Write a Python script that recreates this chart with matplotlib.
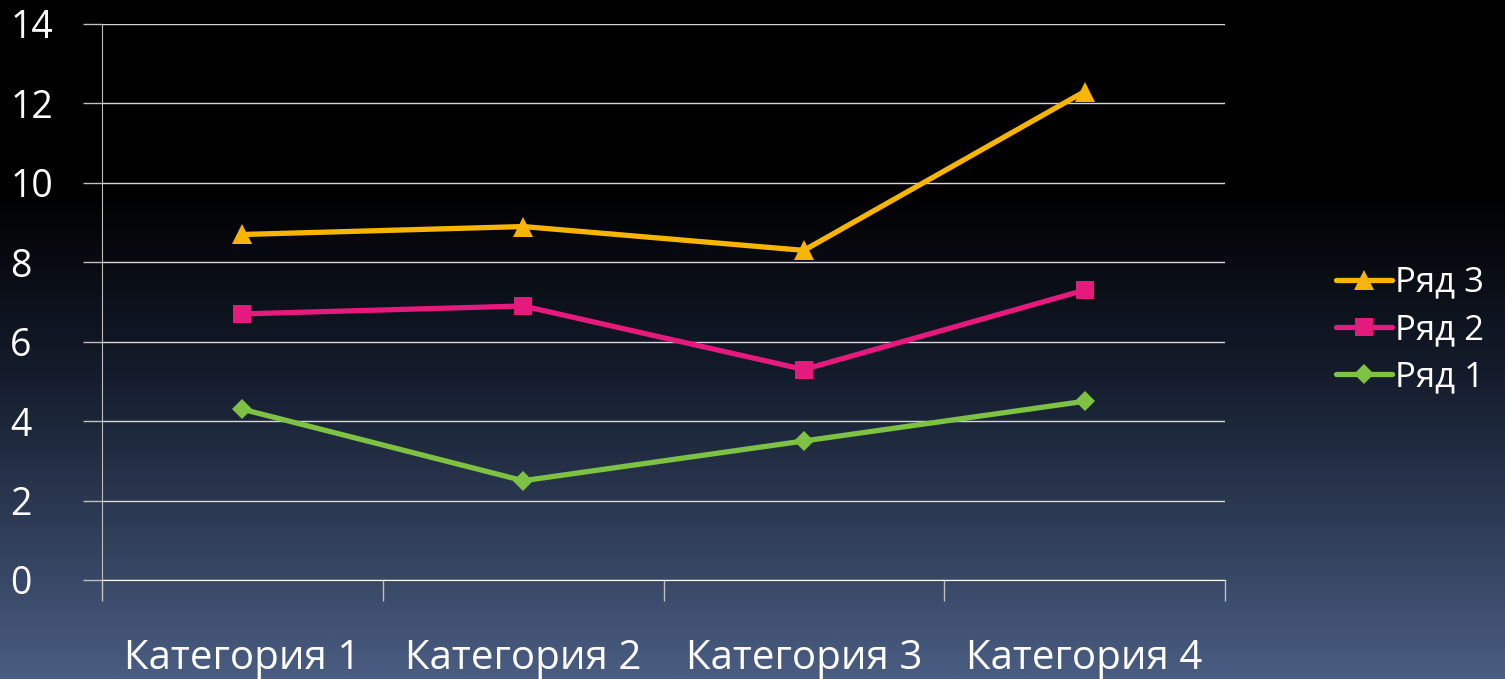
import numpy as np
import matplotlib.pyplot as plt
from matplotlib.colors import LinearSegmentedColormap

categories = ["Категория 1", "Категория 2", "Категория 3", "Категория 4"]
series_names = ["Ряд 1", "Ряд 2", "Ряд 3"]
row1 = [4.3, 2.5, 3.5, 4.5]
row2 = [6.7, 6.9, 5.3, 7.3]
row3 = [8.7, 8.9, 8.3, 12.3]
yticks = [0, 2, 4, 6, 8, 10, 12, 14]
ytick_labels = ["0", "2", "4", "6", "8", "10", "12", "14"]

colors = ["#7DC242", "#E6197D", "#F7B500"]
markers = ["D", "s", "^"]
msizes = [10, 13, 15]

plt.rcParams['font.family'] = ['Open Sans', 'DejaVu Sans']

fig = plt.figure(figsize=(15.05, 6.79), dpi=100)

# background gradient
bg = fig.add_axes([0, 0, 1, 1], zorder=-10)
cmap = LinearSegmentedColormap.from_list(
    "bg", [(0.0, "#000000"), (0.28, "#000000"), (0.55, "#141c2c"),
           (1.0, "#4a5d82")])
grad = np.linspace(0, 1, 512).reshape(-1, 1)
bg.imshow(grad, aspect='auto', cmap=cmap, extent=[0, 1, 0, 1], origin='upper')
bg.axis('off')

ax = fig.add_axes([102/1505, 1-580/679, (1225-102)/1505, (580-24)/679])
ax.patch.set_alpha(0)

x = np.arange(len(categories)) + 0.5
lines = []
for vals, c, m, ms, name in zip([row1, row2, row3], colors, markers, msizes, series_names):
    ln, = ax.plot(x, vals, color=c, lw=3.8, marker=m, markersize=ms,
                  markeredgewidth=0, label=name, solid_capstyle='round', zorder=3)
    lines.append(ln)

ax.set_xlim(0, len(categories))
ax.set_ylim(0, 14)
ax.set_yticks(yticks)
ax.set_yticklabels(ytick_labels)
ax.yaxis.grid(True, color='#d8d8d8', lw=1.0)
ax.set_axisbelow(True)

ax.set_xticks(np.arange(len(categories) + 1))
ax.set_xticklabels([])
ax.set_xticks(x, minor=True)
ax.set_xticklabels(categories, minor=True)
ax.tick_params(axis='x', which='minor', length=0, pad=42, labelsize=29, labelcolor='white')
ax.tick_params(axis='x', which='major', length=15, width=1, color='#bfbfbf')
ax.tick_params(axis='y', length=14, width=1, color='#bfbfbf', labelsize=27,
               labelcolor='white', pad=52)
for lab in ax.get_yticklabels():
    lab.set_horizontalalignment('left')

for s in ['top', 'right']:
    ax.spines[s].set_visible(False)
ax.spines['left'].set_color('#bfbfbf')
ax.spines['bottom'].set_color('white')
ax.spines['left'].set_bounds(-0.38, 14)

leg = fig.legend(handles=lines[::-1], labels=series_names[::-1],
                 loc='center left', bbox_to_anchor=(1305/1505, 1-330/679),
                 frameon=False, fontsize=25, labelcolor='white',
                 handlelength=1.6, handletextpad=0.1, labelspacing=0.38)

fig.savefig("out.png", dpi=100)
